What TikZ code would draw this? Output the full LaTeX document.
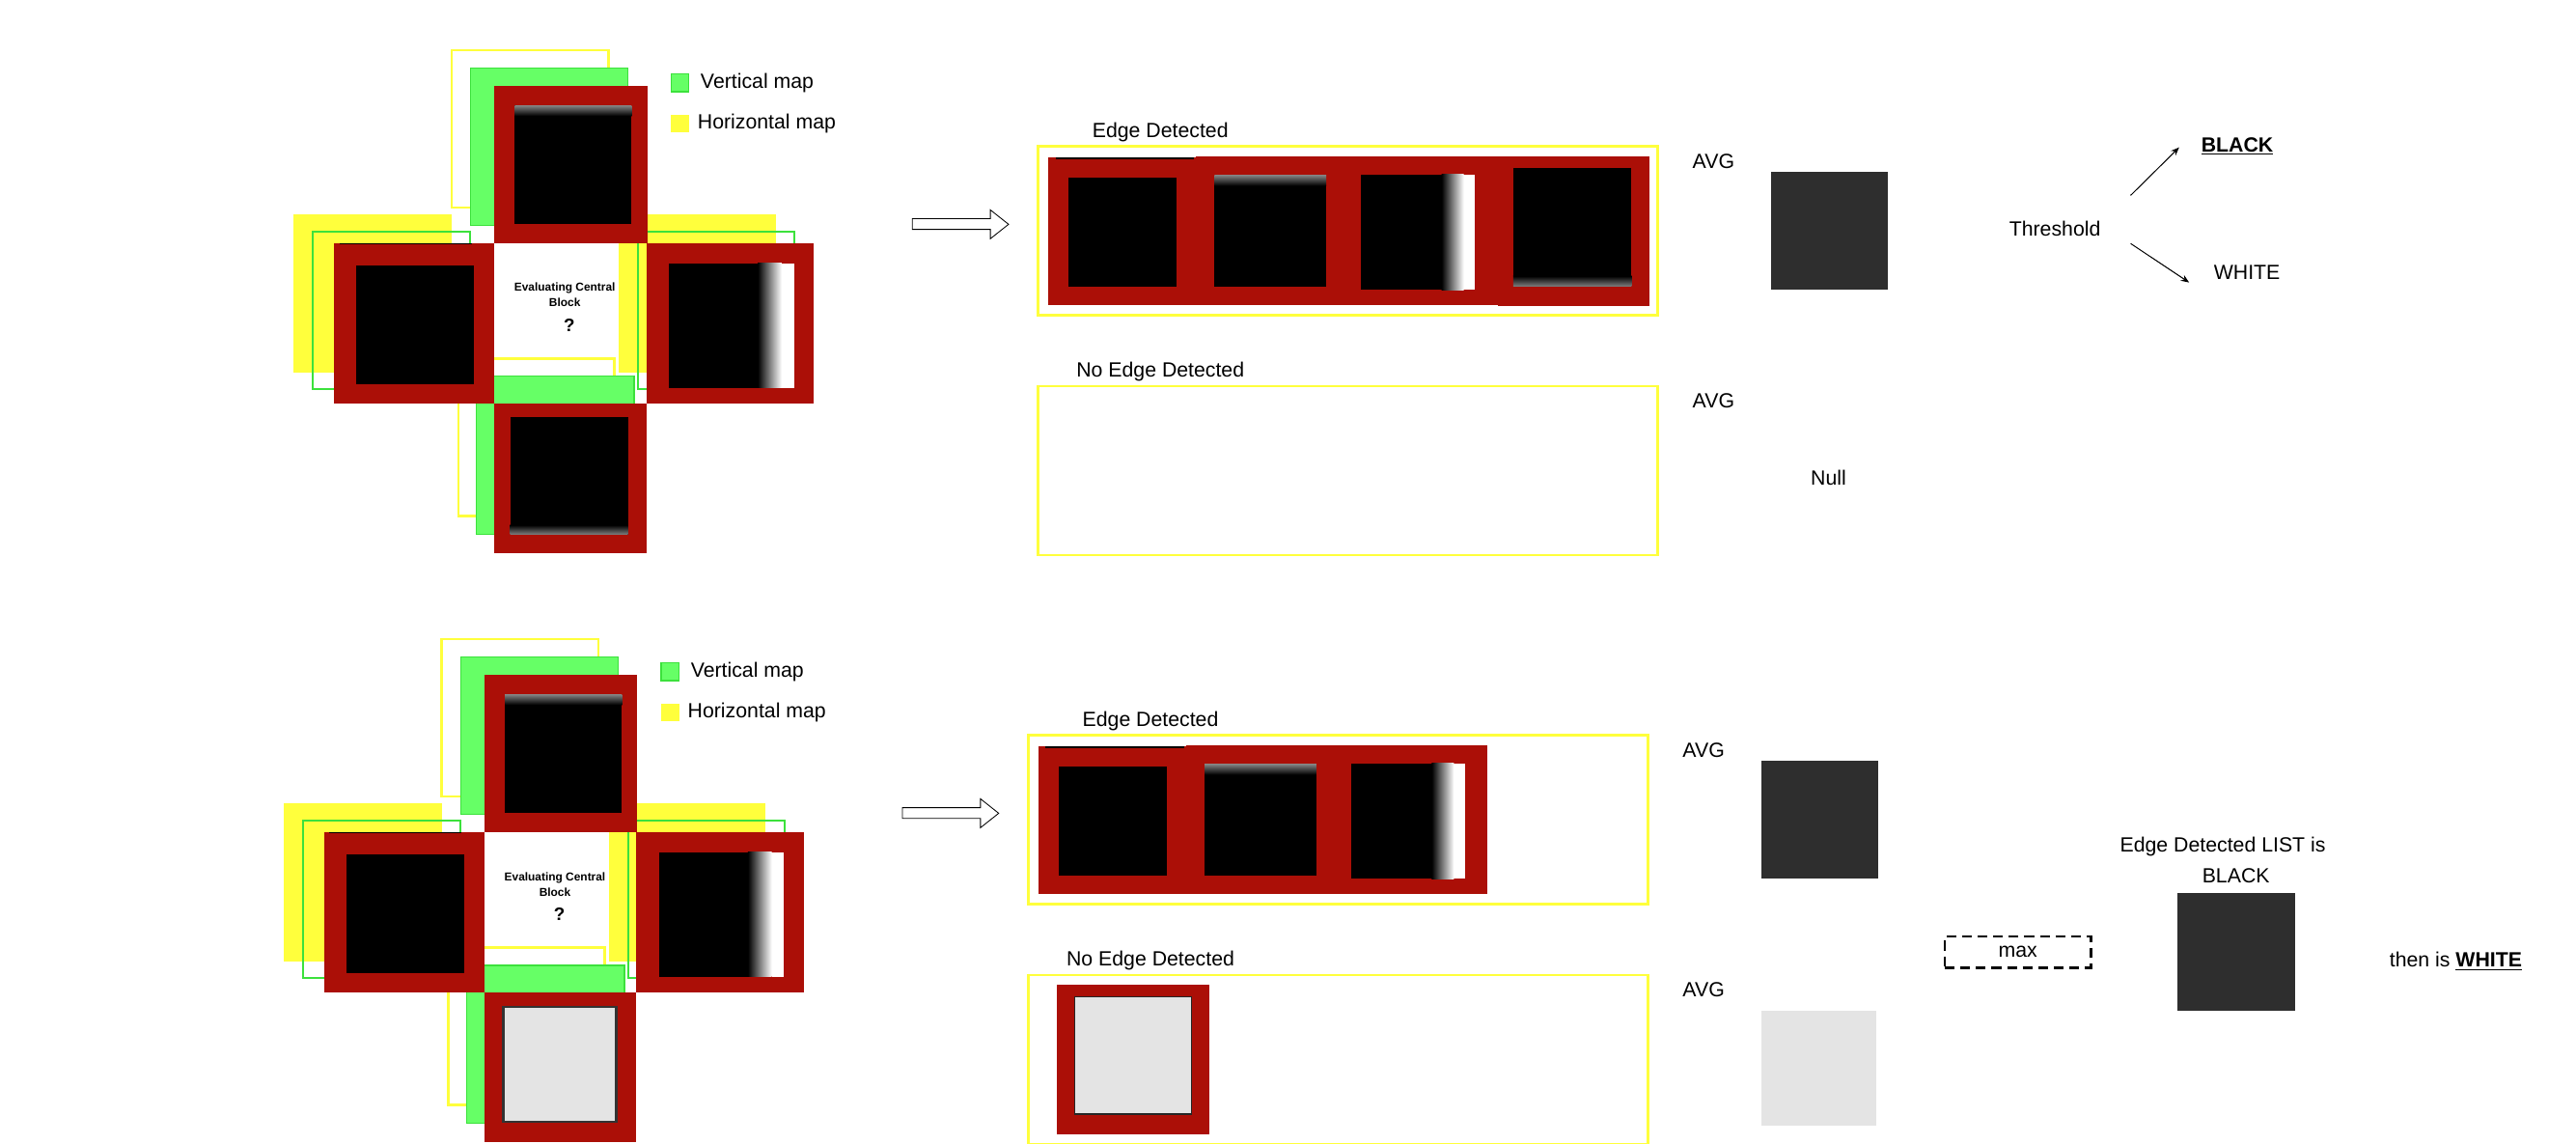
\documentclass[tikz,border=0pt]{standalone}
\usepackage{fontspec}
\setmainfont{Liberation Sans}
\usetikzlibrary{arrows.meta}
\definecolor{redc}{RGB}{171,15,7}
\definecolor{yel}{RGB}{255,255,60}
\definecolor{grn}{RGB}{102,255,102}
\definecolor{grnd}{RGB}{60,225,60}
\definecolor{darksq}{RGB}{46,46,46}
\definecolor{lightsq}{RGB}{228,228,228}
\newcommand\crossbase[1]{%
  \draw[yline] (274.8,30.6) rectangle (370.3,126.3);
  \filldraw[gfill] (286.5,41.3) rectangle (382.2,137);
  \fill[yel] (178.7,130.2) rectangle (274.8,226.5);
  \draw[gline] (190.5,141) rectangle (286,236.8);
  \fill[yel] (376.6,130.2) rectangle (472.1,226.5);
  \draw[gline] (388.2,141) rectangle (483.6,236.8);
  \draw[yline] (278.9,218.3) rectangle (374,314);
  \filldraw[gfill] (290,229) rectangle (386,325);
  % top block
  \fill[redc] (301,52) rectangle (394,148);
  \fill[black] (313.3,64.3) rectangle (384.5,136.4);
  \shade[top color=black!50, bottom color=black] (313.3,64.3) rectangle (384.5,70.5);
  % left block
  \fill[redc] (203.2,148) rectangle (301,245.6);
  \fill[black] (216.7,161.7) rectangle (288.7,233.7);
  \draw[black, line width=0.8pt] (206.6,148.4) -- (287,148.4);
  % right block
  \fill[redc] (393.4,148) rectangle (495.2,245.6);
  \fill[black] (407.2,160.2) rectangle (461.2,236);
  \shade[left color=black, right color=white] (461.2,160.2) rectangle (475.8,236);
  \fill[white] (475.8,160.2) rectangle (483.3,236);
  % bottom block frame
  \fill[redc] (301,245.6) rectangle (393.4,336.6);
  % legend
  \filldraw[gfill] (408.5,45) rectangle (419.3,55.8);
  \fill[yel] (408.5,69.8) rectangle (419.3,80.5);
  \node[lbl, anchor=west] (vm#1) at (426.3,50.3) {Vertical map};
  \node[lbl, anchor=west] (hm#1) at (424.5,75) {Horizontal map};
  % centre text
  \node[lbl, font=\fontsize{7}{8}\selectfont\bfseries] (ev#1) at (343.8,175.6) {Evaluating Central};
  \node[lbl, font=\fontsize{7}{8}\selectfont\bfseries] (bl#1) at (343.8,184.3) {Block};
  \node[lbl, font=\fontsize{11}{12}\selectfont\bfseries] (q#1) at (346.5,197.7) {?};
}
\newcommand\edgebase[1]{%
  \filldraw[harrow] (555.3,133.1) -- (602.8,133.1) -- (602.8,127.7) -- (613.9,136.5)
     -- (602.8,145.3) -- (602.8,139.6) -- (555.3,139.6) -- cycle;
  \node[lbl] (ed#1) at (706.3,80.5) {Edge Detected};
  \draw[ybox] (632,89.1) rectangle (1009,191.9);
  \node[lbl] (ned#1) at (706.3,226) {No Edge Detected};
  \draw[ybox] (632,235) rectangle (1009,337.8);
  % block 1
  \fill[redc] (638,96) rectangle (728.5,185.4);
  \fill[black] (650.3,108) rectangle (716.4,174.3);
  \draw[black, line width=0.8pt] (642.5,96.4) -- (726.6,96.4);
  % block 2
  \fill[redc] (728,95.4) rectangle (816.6,185.4);
  \fill[black] (739.3,106.7) rectangle (807.2,174.3);
  \shade[top color=black!50, bottom color=black] (739.3,106.7) rectangle (807.2,113);
  % block 3
  \fill[redc] (816.2,95.4) rectangle (911.5,185.4);
  \fill[black] (828.5,106.2) rectangle (877.5,176.3);
  \shade[left color=black, right color=white] (877.5,106.2) rectangle (891,176.3);
  \fill[white] (891,106.2) rectangle (897.8,176.3);
  \node[lbl] (avg1#1) at (1043,98) {AVG};
  \node[lbl] (avg2#1) at (1043,244) {AVG};
}
\begin{document}
\begin{tikzpicture}[x=1pt,y=-1pt, font=\fontsize{12.5}{15}\selectfont,
  lbl/.style={inner sep=0pt},
  yline/.style={draw=yel, line width=1.4pt},
  gfill/.style={fill=grn, draw=grnd, line width=0.8pt},
  gline/.style={draw=grnd, line width=1.2pt},
  ybox/.style={draw=yel, line width=1.6pt},
  harrow/.style={draw=black, line width=0.5pt, fill=white},
  tarrow/.style={-{Stealth[length=5pt,width=4pt]}, line width=0.6pt},
  maxbox/.style={draw=black, line width=1.5pt, dash pattern=on 6pt off 3.5pt,
    minimum width=89pt, minimum height=19pt, inner sep=0pt}]
\useasboundingbox (0,0) rectangle (1568,696);
\fill[white] (0,0) rectangle (1568,696);

% ---------- top half ----------
\crossbase{a}
\fill[black] (310.6,253.9) rectangle (382.2,325.3);
\shade[top color=black, bottom color=black!50] (310.6,319.5) rectangle (382.2,325.3);

\edgebase{a}
% block 4
\fill[redc] (911.5,95.4) rectangle (1004,186);
\fill[black] (921.1,102.4) rectangle (993,174.3);
\shade[top color=black, bottom color=black!50] (921.1,168) rectangle (993,174.3);

\fill[darksq] (1078.2,104.7) rectangle (1149.4,176.2);
\node[lbl] (null) at (1113,291) {Null};

\node[lbl] (thr) at (1250.8,139) {Threshold};
\node[lbl] (blk) at (1361.8,89) {\textbf{\underline{BLACK}}};
\node[lbl] (wht) at (1367.7,166) {WHITE};
\coordinate (u1) at (1296.9,118.9);
\coordinate (u2) at (1326.4,89.7);
\coordinate (d1) at (1296.9,148.2);
\coordinate (d2) at (1332.5,171.9);
\draw[tarrow] (u1) -- (u2);
\draw[tarrow] (d1) -- (d2);

% ---------- bottom half ----------
\begin{scope}[shift={(-6,358.4)}]
  \crossbase{b}
  \fill[lightsq, draw=black!80, line width=1.6pt] (312.3,254.4) rectangle (381.2,324.3);
  \edgebase{b}
\end{scope}

\fill[redc] (643.5,599.3) rectangle (736.4,690);
\fill[lightsq, draw=black!85, line width=0.8pt] (654,606.7) rectangle (725.2,678);

\fill[darksq] (1072.2,463.1) rectangle (1143.4,534.6);
\fill[lightsq] (1072,615) rectangle (1142,685);

\node[maxbox] (mx) at (1228.2,579.4) {max};
\node[lbl] (edl) at (1353,515) {Edge Detected LIST is};
\node[lbl] (edb) at (1361,533) {BLACK};
\fill[darksq] (1325.5,543.4) rectangle (1397.2,614.9);
\node[lbl] (tw) at (1494.8,585) {then is \textbf{\underline{WHITE}}};
\end{tikzpicture}
\end{document}
